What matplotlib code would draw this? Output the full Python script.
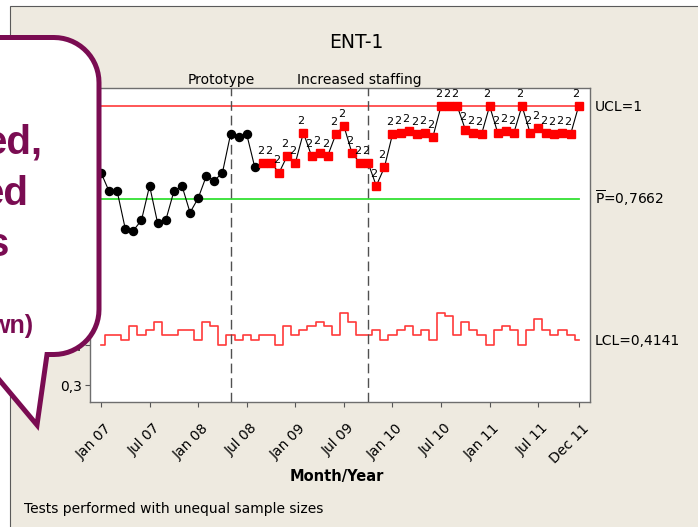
import numpy as np
import matplotlib
matplotlib.use("Agg")
import matplotlib.pyplot as plt
import matplotlib.transforms as mtransforms
from matplotlib.patches import Rectangle, PathPatch
from matplotlib.path import Path

W, H = 698, 527

# monthly proportion, Jan 07 .. Dec 11
proportion = [0.833, 0.786, 0.786, 0.692, 0.688, 0.714, 0.800, 0.706, 0.714, 0.786,
              0.800, 0.733, 0.769, 0.824, 0.813, 0.833, 0.929, 0.923, 0.929, 0.846,
              0.857, 0.857, 0.833, 0.875, 0.857, 0.933, 0.875, 0.882, 0.875, 0.929,
              0.950, 0.882, 0.857, 0.857, 0.800, 0.846, 0.929, 0.933, 0.938, 0.929,
              0.933, 0.923, 1.000, 1.000, 1.000, 0.941, 0.933, 0.929, 1.000, 0.933,
              0.938, 0.933, 1.000, 0.933, 0.944, 0.933, 0.929, 0.933, 0.929, 1.000]
# lower control limit per month (unequal sample sizes)
lcl = [0.400, 0.427, 0.427, 0.414, 0.449, 0.427, 0.438, 0.458, 0.427, 0.427,
       0.438, 0.438, 0.414, 0.458, 0.449, 0.400, 0.427, 0.414, 0.427, 0.414,
       0.427, 0.427, 0.400, 0.449, 0.427, 0.438, 0.449, 0.458, 0.449, 0.427,
       0.482, 0.458, 0.427, 0.427, 0.438, 0.414, 0.427, 0.438, 0.449, 0.427,
       0.438, 0.414, 0.482, 0.475, 0.427, 0.458, 0.438, 0.427, 0.400, 0.438,
       0.449, 0.438, 0.400, 0.438, 0.467, 0.438, 0.427, 0.438, 0.427, 0.414]
ucl = 1.0
p_bar = 0.7662
lcl_last = 0.4141
flagged_from = 20          # first point failing test 2

tick_pos = [0, 6, 12, 18, 24, 30, 36, 42, 48, 54, 59]
tick_labels = ["Jan 07", "Jul 07", "Jan 08", "Jul 08", "Jan 09", "Jul 09",
               "Jan 10", "Jul 10", "Jan 11", "Jul 11", "Dec 11"]
y_ticks = [0.3, 0.4, 0.5, 0.6, 0.7, 0.8, 0.9, 1.0]
y_tick_labels = ["0,3", "0,4", "0,5", "0,6", "0,7", "0,8", "0,9", "1,0"]

stage_lines = [16, 33]
stage_names = ["Prototype", "Increased staffing"]

callout_lines = ["ed,", "ed", "s"]
callout_small = "wn)"

BEIGE = "#eeeae0"
PURPLE = "#7a0c52"
plt.rcParams["font.family"] = ["DejaVu Sans"]

fig = plt.figure(figsize=(W / 100, H / 100), dpi=100)
fig.patch.set_facecolor("white")
# pixel coordinates, y pointing down
px = mtransforms.Affine2D().scale(1.0 / W, -1.0 / H).translate(0, 1) + fig.transFigure

frame = Rectangle((9.5, 5.5), 700, 530, transform=px, facecolor=BEIGE,
                  edgecolor="#5a5a5a", lw=0.8, zorder=-1)
fig.add_artist(frame)

ax = fig.add_axes([90 / W, 1 - 401.7 / H, 500 / W, (401.7 - 88.3) / H])
ax.set_facecolor("white")
x = np.arange(len(proportion))

ax.plot(x, lcl, color="#ff3a3a", lw=1.2, drawstyle="steps-mid", zorder=2)
ax.plot([x[0], x[-1]], [ucl, ucl], color="#ff3a3a", lw=1.2, zorder=2)
ax.plot([x[0], x[-1]], [p_bar, p_bar], color="#33e033", lw=1.3, zorder=2)

for s in stage_lines:
    ax.axvline(s, color="#505050", lw=1.0, dashes=(7, 3.5), zorder=3)

ax.plot(x, proportion, color="black", lw=0.8, zorder=4)
ax.plot(x[:flagged_from], proportion[:flagged_from], "o", color="black",
        markersize=5.8, zorder=5)
ax.plot(x[flagged_from:], proportion[flagged_from:], "s", color="#ff0000",
        markersize=5.6, zorder=5)
for i in range(flagged_from, len(proportion)):
    ax.annotate("2", (x[i], proportion[i]), xytext=(-1.8, 8.8),
                textcoords="offset points", ha="center", va="center",
                fontsize=8, zorder=6)

ax.set_xlim(-1.36, 60.4)
ax.set_ylim(0.259, 1.0444)
ax.set_xticks(tick_pos)
ax.set_xticklabels(tick_labels, rotation=45, ha="right", va="center",
                   rotation_mode="anchor", fontsize=10)
ax.set_yticks(y_ticks)
ax.set_yticklabels(y_tick_labels, fontsize=10)
ax.tick_params(axis="x", direction="out", length=3.6, pad=14, color="#555555")
ax.tick_params(axis="y", direction="out", length=3.6, pad=2, color="#555555")
shift = mtransforms.ScaledTranslation(8 / 100, 0, fig.dpi_scale_trans)
for lbl in ax.get_xticklabels():
    lbl.set_transform(lbl.get_transform() + shift)
for sp in ax.spines.values():
    sp.set_color("#6e6e6e")
    sp.set_linewidth(1.0)

# stage labels above plot
lab_tr = mtransforms.blended_transform_factory(ax.transData, px)
for s, name in zip(stage_lines, stage_names):
    ax.text(s - 1.1, 84, name, transform=lab_tr, ha="center", va="baseline",
            fontsize=10, clip_on=False)

# limit labels on the right
down = mtransforms.ScaledTranslation(0, -5 / 100, fig.dpi_scale_trans)
lim_tr = mtransforms.blended_transform_factory(px, ax.transData) + down
ax.text(595, ucl, "UCL=1", transform=lim_tr, fontsize=10, va="baseline", clip_on=False)
ax.text(595, p_bar, r"$\overline{\mathrm{P}}$=" + f"{p_bar:.4f}".replace(".", ","),
        transform=lim_tr, fontsize=10, va="baseline", clip_on=False)
ax.text(595, lcl_last, "LCL=" + f"{lcl_last:.4f}".replace(".", ","), transform=lim_tr,
        fontsize=10, va="baseline", clip_on=False)

fig.text(356, 48, "ENT-1", transform=px, ha="center", va="baseline", fontsize=13.5)
fig.text(337, 481, "Month/Year", transform=px, ha="center", va="baseline",
         fontsize=10.5, fontweight="bold")
fig.text(24.5, 513, "Tests performed with unequal sample sizes", transform=px,
         ha="left", va="baseline", fontsize=10)

# speech bubble covering the left side
r, top, bot, right = 45, 37.5, 354.5, 99
pts = [(-60, top), (right - r, top)]
for a in np.linspace(np.pi / 2, 0, 16)[1:]:
    pts.append((right - r + r * np.cos(a), top + r - r * np.sin(a)))
pts.append((right, bot - r))
for a in np.linspace(0, -np.pi / 2, 16)[1:]:
    pts.append((right - r + r * np.cos(a), bot - r - r * np.sin(a)))
pts += [(47, bot), (37, 425), (-22, bot), (-60, bot), (-60, top)]
bubble = PathPatch(Path(pts, closed=True), transform=px, facecolor="white",
                   edgecolor=PURPLE, lw=3.6, joinstyle="miter", zorder=10)
fig.add_artist(bubble)

for txt, xr, yb in zip(callout_lines, [43, 28, 9], [154, 205, 256]):
    fig.text(xr, yb, txt, transform=px, ha="right", va="baseline", fontsize=29,
             fontweight="bold", family=["Liberation Sans", "DejaVu Sans"],
             color=PURPLE, zorder=11)
fig.text(33, 333, callout_small, transform=px, ha="right", va="baseline", fontsize=18,
         fontweight="bold", family=["Liberation Sans", "DejaVu Sans"],
         color=PURPLE, zorder=11)

fig.savefig("out.png", dpi=100)
